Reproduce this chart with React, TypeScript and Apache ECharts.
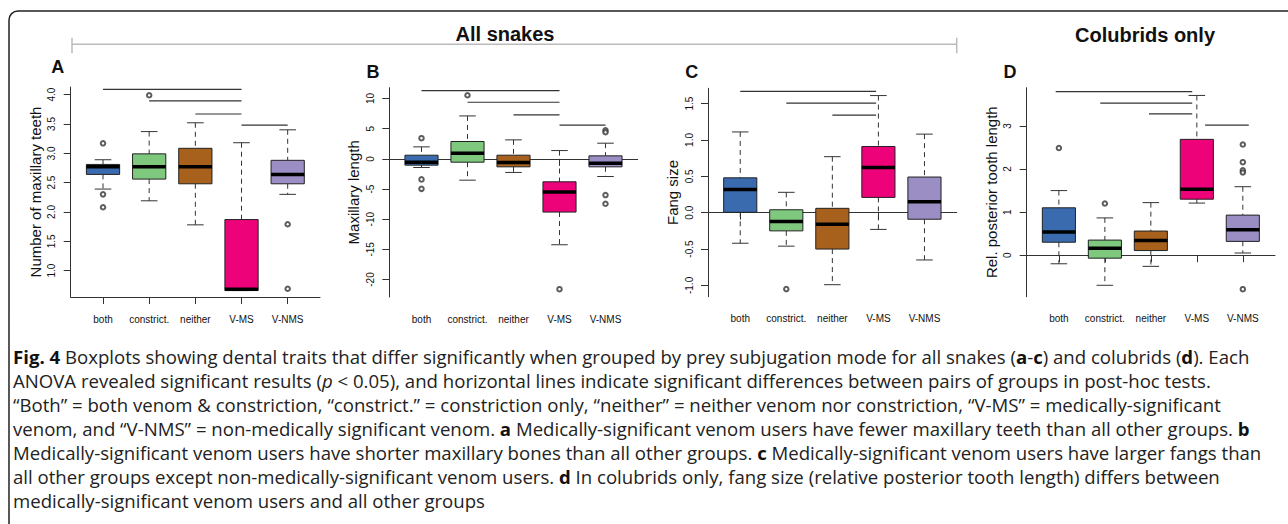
import React, { useEffect, useRef } from "react";
import * as echarts from "echarts";

const categories = ["both", "constrict.", "neither", "V-MS", "V-NMS"];
const groupColors = ["#3A6BAF", "#7FC97F", "#A8611D", "#EE0279", "#9A8EC4"];

// Box summaries per group: [low whisker, Q1, median, Q3, high whisker]
const boxesA = [
  [2.39, 2.64, 2.77, 2.81, 2.89],
  [2.19, 2.56, 2.77, 2.99, 3.37],
  [1.78, 2.48, 2.77, 3.085, 3.52],
  [0.66, 0.66, 0.68, 1.87, 3.18],
  [2.3, 2.48, 2.64, 2.88, 3.4],
];
// outliers: [group position (1-based), value]
const outliersA = [[1, 3.17], [1, 2.3], [1, 2.08], [2, 3.99], [5, 1.79], [5, 0.69]];
// significance bars: [from group, to group, height]
const sigA = [[1, 4, 4.09], [2, 4, 3.895], [3, 4, 3.67], [4, 5, 3.48]];
const ticksA = [1, 1.5, 2, 2.5, 3, 3.5, 4];

const boxesB = [
  [-1.43, -1.04, -0.55, 0.61, 1.99],
  [-3.53, -0.55, 0.94, 2.88, 7.12],
  [-2.25, -1.32, -0.6, 0.61, 3.15],
  [-14.24, -8.82, -5.51, -3.8, 1.38],
  [-2.92, -1.32, -0.71, 0.5, 2.6],
];
const outliersB = [[1, 3.43], [1, -3.4], [1, -4.97], [2, 10.55], [4, -21.6], [5, 4.75], [5, 4.42], [5, -6.0], [5, -7.45]];
const sigB = [[1, 4, 11.32], [2, 4, 9.39], [3, 4, 7.28], [4, 5, 5.58]];
const ticksB = [-20, -15, -10, -5, 0, 5, 10];

const boxesC = [
  [-0.42, 0.005, 0.32, 0.479, 1.11],
  [-0.46, -0.25, -0.12, 0.04, 0.28],
  [-0.99, -0.5, -0.16, 0.06, 0.77],
  [-0.23, 0.21, 0.62, 0.91, 1.61],
  [-0.65, -0.09, 0.15, 0.49, 1.08],
];
const outliersC = [[2, -1.05]];
const sigC = [[1, 3.95, 1.667], [2, 3.95, 1.507], [3, 3.95, 1.34]];
const ticksC = [-1, -0.5, 0, 0.5, 1, 1.5];

const boxesD = [
  [-0.2, 0.3, 0.54, 1.1, 1.5],
  [-0.7, -0.07, 0.16, 0.35, 0.865],
  [-0.26, 0.107, 0.34, 0.56, 1.22],
  [1.21, 1.3, 1.53, 2.69, 3.71],
  [0.05, 0.32, 0.59, 0.93, 1.59],
];
const outliersD = [[1, 2.49], [2, 1.2], [5, 2.57], [5, 2.16], [5, 1.97], [5, 1.92], [5, -0.79]];
const sigD = [[0.93, 3.9, 3.8], [1.9, 3.9, 3.53], [2.96, 3.9, 3.28], [4.18, 5.13, 3.02]];
const ticksD = [0, 1, 2, 3];

const captionLines = [
  "{b|Fig. 4} Boxplots showing dental traits that differ significantly when grouped by prey subjugation mode for all snakes ({b|a}-{b|c}) and colubrids ({b|d}). Each",
  "ANOVA revealed significant results ({i|p} < 0.05), and horizontal lines indicate significant differences between pairs of groups in post-hoc tests.",
  "“Both” = both venom & constriction, “constrict.” = constriction only, “neither” = neither venom nor constriction, “V-MS” = medically-significant",
  "venom, and “V-NMS” = non-medically significant venom. {b|a} Medically-significant venom users have fewer maxillary teeth than all other groups. {b|b}",
  "Medically-significant venom users have shorter maxillary bones than all other groups. {b|c} Medically-significant venom users have larger fangs than",
  "all other groups except non-medically-significant venom users. {b|d} In colubrids only, fang size (relative posterior tooth length) differs between",
  "medically-significant venom users and all other groups",
];

const ARIAL = "'Liberation Sans', Arial, Helvetica, sans-serif";
const CAPFONT = "'Open Sans', 'Noto Sans', sans-serif";
const CAPSIZE = 18.6;

const panels = [
  { label: "A", labelPos: [57.7, 67], yName: "Number of maxillary teeth", min: 0.55, max: 4.13, ticks: ticksA, fmt: (v: number) => v.toFixed(1), boxes: boxesA, outliers: outliersA, sig: sigA, grid: { left: 70.7, top: 87, width: 249.3, height: 210 } },
  { label: "B", labelPos: [373, 71.7], yName: "Maxillary length", min: -22.9, max: 11.8, ticks: ticksB, fmt: (v: number) => String(v), boxes: boxesB, outliers: outliersB, sig: sigB, grid: { left: 389.3, top: 87.7, width: 248.4, height: 209.3 } },
  { label: "C", labelPos: [691.7, 72.3], yName: "Fang size", min: -1.155, max: 1.71, ticks: ticksC, fmt: (v: number) => v.toFixed(1), boxes: boxesC, outliers: outliersC, sig: sigC, grid: { left: 708, top: 88.3, width: 248.7, height: 208.4 } },
  { label: "D", labelPos: [1010, 71.7], yName: "Rel. posterior tooth length", min: -0.965, max: 3.89, ticks: ticksD, fmt: (v: number) => String(v), boxes: boxesD, outliers: outliersD, sig: sigD, grid: { left: 1026.7, top: 87.7, width: 248.3, height: 209 } },
];

function buildOption() {
  const grid: any[] = [];
  const xAxis: any[] = [];
  const yAxis: any[] = [];
  const series: any[] = [];
  const graphic: any[] = [];

  panels.forEach((p, i) => {
    grid.push({ ...p.grid });
    xAxis.push({
      type: "value",
      gridIndex: i,
      min: 0.3,
      max: 5.7,
      splitLine: { show: false },
      axisLine: { show: true, lineStyle: { color: "#333", width: 1 } },
      axisTick: { show: true, customValues: [1, 2, 3, 4, 5], length: 7, lineStyle: { color: "#333" } },
      axisLabel: {
        show: true,
        customValues: [1, 2, 3, 4, 5],
        formatter: (v: number) => categories[Math.round(v) - 1] ?? "",
        fontFamily: ARIAL,
        fontSize: 10,
        color: "#111",
        margin: 17,
      },
    });
    yAxis.push({
      type: "value",
      gridIndex: i,
      min: p.min,
      max: p.max,
      splitLine: { show: false },
      axisLine: { show: true, lineStyle: { color: "#333", width: 1 } },
      axisTick: { show: true, customValues: p.ticks, length: 7, lineStyle: { color: "#333" } },
      axisLabel: {
        show: true,
        customValues: p.ticks,
        rotate: 90,
        formatter: p.fmt,
        fontFamily: ARIAL,
        fontSize: 10,
        color: "#111",
        margin: 14,
      },
      name: p.yName,
      nameLocation: "middle",
      nameRotate: 90,
      nameGap: 28,
      nameTextStyle: { fontFamily: ARIAL, fontSize: 15, color: "#111" },
    });

    series.push({
      type: "custom",
      xAxisIndex: i,
      yAxisIndex: i,
      data: p.boxes.map((b, k) => [k + 1, ...b]),
      encode: { x: 0, y: [1, 2, 3, 4, 5] },
      renderItem: (params: any, api: any) => {
        const x = api.value(0);
        const lo = api.coord([x, api.value(1)]);
        const q1 = api.coord([x, api.value(2)]);
        const md = api.coord([x, api.value(3)]);
        const q3 = api.coord([x, api.value(4)]);
        const hi = api.coord([x, api.value(5)]);
        const half = api.size([0.72, 0])[0] / 2;
        const cap = half / 2;
        const cx = md[0];
        const dash = { stroke: "#333", lineWidth: 1, lineDash: [5, 4] };
        const solid = { stroke: "#333", lineWidth: 1 };
        return {
          type: "group",
          children: [
            { type: "line", shape: { x1: cx, y1: hi[1], x2: cx, y2: q3[1] }, style: dash },
            { type: "line", shape: { x1: cx, y1: q1[1], x2: cx, y2: lo[1] }, style: dash },
            { type: "line", shape: { x1: cx - cap, y1: hi[1], x2: cx + cap, y2: hi[1] }, style: solid },
            { type: "line", shape: { x1: cx - cap, y1: lo[1], x2: cx + cap, y2: lo[1] }, style: solid },
            { type: "rect", shape: { x: cx - half, y: q3[1], width: 2 * half, height: q1[1] - q3[1] }, style: { fill: groupColors[params.dataIndex], stroke: "#222", lineWidth: 1 } },
            { type: "line", shape: { x1: cx - half, y1: md[1], x2: cx + half, y2: md[1] }, style: { stroke: "#000", lineWidth: 3.5 } },
          ],
        };
      },
    });

    series.push({
      type: "scatter",
      xAxisIndex: i,
      yAxisIndex: i,
      data: p.outliers,
      symbol: "emptyCircle",
      symbolSize: 4.5,
      itemStyle: { color: "#333", borderColor: "#333", borderWidth: 1.2 },
      silent: true,
    });

    series.push({
      type: "custom",
      xAxisIndex: i,
      yAxisIndex: i,
      data: p.sig,
      encode: { x: [0, 1], y: 2 },
      renderItem: (_params: any, api: any) => {
        const a = api.coord([api.value(0), api.value(2)]);
        const b = api.coord([api.value(1), api.value(2)]);
        return { type: "line", shape: { x1: a[0], y1: a[1], x2: b[0], y2: b[1] }, style: { stroke: "#333", lineWidth: 1.2 } };
      },
    });

    graphic.push({
      type: "text",
      x: p.labelPos[0],
      y: p.labelPos[1],
      style: { text: p.label, fontFamily: ARIAL, fontWeight: "bold", fontSize: 18, fill: "#111", align: "center", verticalAlign: "middle" },
    });
  });

  graphic.push({
    type: "rect",
    z: -10,
    shape: { x: 9, y: 11, width: 1300, height: 540, r: 9 },
    style: { fill: "none", stroke: "#222", lineWidth: 1.5 },
  });
  graphic.push({
    type: "polyline",
    shape: { points: [[72, 37.7], [72, 53.3]] },
    style: { stroke: "#bbb", lineWidth: 1.5, fill: "none" },
  });
  graphic.push({
    type: "polyline",
    shape: { points: [[72, 44.3], [956.7, 44.3]] },
    style: { stroke: "#bbb", lineWidth: 1.5, fill: "none" },
  });
  graphic.push({
    type: "polyline",
    shape: { points: [[956.7, 37.7], [956.7, 53.3]] },
    style: { stroke: "#bbb", lineWidth: 1.5, fill: "none" },
  });
  graphic.push({
    type: "text",
    x: 505,
    y: 34,
    style: { text: "All snakes", fontFamily: ARIAL, fontWeight: "bold", fontSize: 20, fill: "#111", align: "center", verticalAlign: "middle" },
  });
  graphic.push({
    type: "text",
    x: 1145,
    y: 35,
    style: { text: "Colubrids only", fontFamily: ARIAL, fontWeight: "bold", fontSize: 20, fill: "#111", align: "center", verticalAlign: "middle" },
  });

  captionLines.forEach((line, k) => {
    graphic.push({
      type: "text",
      x: 13,
      y: 356 + k * 24,
      style: {
        text: line,
        fontFamily: CAPFONT,
        fontSize: CAPSIZE,
        fill: "#222",
        align: "left",
        verticalAlign: "middle",
        rich: {
          b: { fontFamily: CAPFONT, fontSize: CAPSIZE, fontWeight: "bold", fill: "#111" },
          i: { fontFamily: CAPFONT, fontSize: CAPSIZE, fontStyle: "italic", fill: "#222" },
        },
      },
    });
  });

  return {
    animation: false,
    backgroundColor: "#fff",
    grid,
    xAxis,
    yAxis,
    series,
    graphic,
  };
}

export default function App() {
  const ref = useRef<HTMLDivElement>(null);
  useEffect(() => {
    document.body.style.margin = "0";
    if (!ref.current) return;
    const chart = echarts.init(ref.current, undefined, { renderer: "svg" });
    chart.setOption(buildOption() as any);
    return () => chart.dispose();
  }, []);
  return <div ref={ref} style={{ width: 1288, height: 524 }} />;
}
